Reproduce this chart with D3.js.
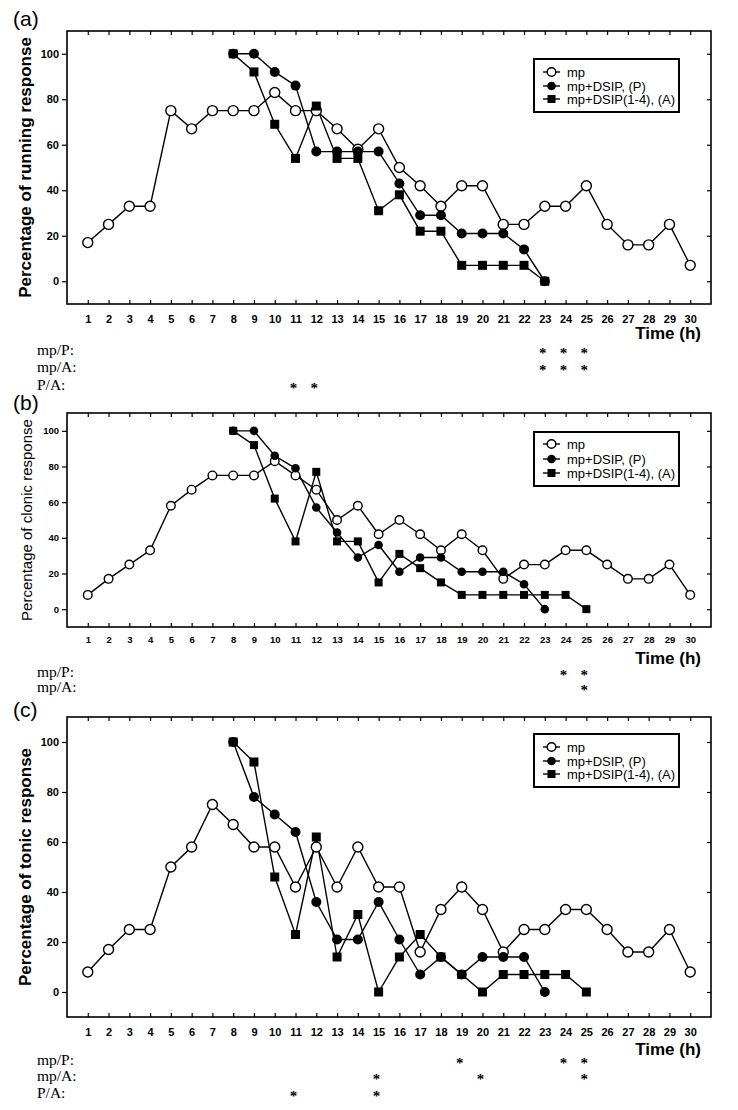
<!DOCTYPE html>
<html>
<head>
<meta charset="utf-8">
<script src="https://cdn.jsdelivr.net/npm/d3@7"></script>
<style>
  body { margin: 0; background: #fff; }
  svg { display: block; }
</style>
</head>
<body>
<div id="chart"></div>
<script>
// hours on the x axis
const hours = [1, 2, 3, 4, 5, 6, 7, 8, 9, 10, 11, 12, 13, 14, 15, 16, 17, 18, 19, 20, 21, 22, 23, 24, 25, 26, 27, 28, 29, 30];
const yTicks = [0, 20, 40, 60, 80, 100];
const seriesNames = ["mp", "mp+DSIP, (P)", "mp+DSIP(1-4), (A)"];
const sigLabelsFull = ["mp/P:", "mp/A:", "P/A:"];

// (a) running response
const runMp = [17, 25, 33, 33, 75, 67, 75, 75, 75, 83, 75, 75, 67, 58, 67, 50, 42, 33, 42, 42, 25, 25, 33, 33, 42, 25, 16, 16, 25, 7];
const runP = [100, 100, 92, 86, 57, 57, 57, 57, 43, 29, 29, 21, 21, 21, 14, 0];          // hours 8..23
const runA = [100, 92, 69, 54, 77, 54, 54, 31, 38, 22, 22, 7, 7, 7, 7, 0];               // hours 8..23
const runSig = [[23, 24, 25], [23, 24, 25], [11, 12]];

// (b) clonic response
const cloMp = [8, 17, 25, 33, 58, 67, 75, 75, 75, 83, 75, 67, 50, 58, 42, 50, 42, 33, 42, 33, 17, 25, 25, 33, 33, 25, 17, 17, 25, 8];
const cloP = [100, 100, 86, 79, 57, 43, 29, 36, 21, 29, 29, 21, 21, 21, 14, 0];          // hours 8..23
const cloA = [100, 92, 62, 38, 77, 38, 38, 15, 31, 23, 15, 8, 8, 8, 8, 8, 8, 0];          // hours 8..25
const cloSig = [[24, 25], [25]];

// (c) tonic response
const tonMp = [8, 17, 25, 25, 50, 58, 75, 67, 58, 58, 42, 58, 42, 58, 42, 42, 16, 33, 42, 33, 16, 25, 25, 33, 33, 25, 16, 16, 25, 8];
const tonP = [100, 78, 71, 64, 36, 21, 21, 36, 21, 7, 14, 7, 14, 14, 14, 0];             // hours 8..23
const tonA = [100, 92, 46, 23, 62, 14, 31, 0, 14, 23, 14, 7, 0, 7, 7, 7, 7, 0];            // hours 8..25
const tonSig = [[19, 24, 25], [15, 20, 25], [11, 15]];

const firstTreatedHour = 8;

const W = 738, H = 1110;
const svg = d3.select("#chart").append("svg")
    .attr("width", W)
    .attr("height", H)
    .style("font-family", "'Liberation Sans', Arial, sans-serif");

const x = d3.scaleLinear().domain([0, 31]).range([67, 711]);

const panels = [
    { letter: "(a)", letterY: 18, top: 31, bottom: 304, title: "Percentage of running response",
      titleSize: 17, titleWeight: "bold", titleX: 25, tickFont: 11, labelPad: 11,
      timeY: 333, sigY: [350, 367, 385], legendTop: 59, legendY: [72, 86, 99],
      r: 5, sq: 9, mp: runMp, p: runP, a: runA, sig: runSig },
    { letter: "(b)", letterY: 402, top: 413, bottom: 627, title: "Percentage of clonic response",
      titleSize: 15, titleWeight: "normal", titleX: 27, tickFont: 9.5, labelPad: 9,
      timeY: 658, sigY: [672, 687], legendTop: 432, legendY: [444, 459, 473],
      r: 4.3, sq: 8, mp: cloMp, p: cloP, a: cloA, sig: cloSig },
    { letter: "(c)", letterY: 709, top: 717, bottom: 1017, title: "Percentage of tonic response",
      titleSize: 17, titleWeight: "bold", titleX: 25, tickFont: 11, labelPad: 11,
      timeY: 1049, sigY: [1060, 1076, 1093], legendTop: 734, legendY: [747, 761, 774],
      r: 5, sq: 9, mp: tonMp, p: tonP, a: tonA, sig: tonSig }
];

function drawMarker(g, kind, cx, cy, p) {
    if (kind === 0) {
        g.append("circle").attr("cx", cx).attr("cy", cy).attr("r", p.r)
            .attr("fill", "#fff").attr("stroke", "#000").attr("stroke-width", 1.4);
    } else if (kind === 1) {
        g.append("circle").attr("cx", cx).attr("cy", cy).attr("r", p.r)
            .attr("fill", "#000");
    } else {
        g.append("rect").attr("x", cx - p.sq / 2).attr("y", cy - p.sq / 2)
            .attr("width", p.sq).attr("height", p.sq).attr("fill", "#000");
    }
}

panels.forEach(p => {
    const g = svg.append("g");
    const y = d3.scaleLinear().domain([-10, 110]).range([p.bottom, p.top]);

    // panel letter
    g.append("text").attr("x", 13).attr("y", p.letterY).attr("dy", "0.36em")
        .attr("font-size", 21).text(p.letter);

    // axes: ticks inward on top/bottom/right, outward on left
    const bottomAx = g.append("g").attr("transform", `translate(0,${p.bottom})`)
        .call(d3.axisBottom(x).tickValues(hours).tickSizeInner(-4).tickSizeOuter(0).tickPadding(p.labelPad));
    bottomAx.selectAll("text").attr("font-size", p.tickFont).attr("font-weight", "bold").attr("fill", "#000");
    g.append("g").attr("transform", `translate(0,${p.top})`)
        .call(d3.axisTop(x).tickValues(hours).tickSizeInner(-4).tickSizeOuter(0).tickFormat(""));
    const leftAx = g.append("g").attr("transform", `translate(${x(0)},0)`)
        .call(d3.axisLeft(y).tickValues(yTicks).tickSizeInner(5).tickSizeOuter(0).tickPadding(3));
    leftAx.selectAll("text").attr("font-size", p.tickFont).attr("font-weight", "bold").attr("fill", "#000");
    g.append("g").attr("transform", `translate(${x(31)},0)`)
        .call(d3.axisRight(y).tickValues(yTicks).tickSizeInner(-4).tickSizeOuter(0).tickFormat(""));
    g.selectAll(".domain").remove();
    g.selectAll(".tick line").attr("stroke", "#000").attr("stroke-width", 1.2);

    // frame
    g.append("rect").attr("x", x(0)).attr("y", p.top)
        .attr("width", x(31) - x(0)).attr("height", p.bottom - p.top)
        .attr("fill", "none").attr("stroke", "#000").attr("stroke-width", 1.6);

    // y title
    g.append("text")
        .attr("transform", `translate(${p.titleX},${(p.top + p.bottom) / 2}) rotate(-90)`)
        .attr("text-anchor", "middle").attr("dy", "0.36em")
        .attr("font-size", p.titleSize).attr("font-weight", p.titleWeight)
        .text(p.title);

    // series
    const line = d3.line().x(d => x(d[0])).y(d => y(d[1]));
    const sets = [
        hours.map((h, i) => [h, p.mp[i]]),
        p.p.map((v, i) => [firstTreatedHour + i, v]),
        p.a.map((v, i) => [firstTreatedHour + i, v])
    ];
    sets.forEach(pts => {
        g.append("path").attr("d", line(pts)).attr("fill", "none")
            .attr("stroke", "#000").attr("stroke-width", 1.4);
    });
    sets.forEach((pts, k) => {
        pts.forEach(d => drawMarker(g, k, x(d[0]), y(d[1]), p));
    });

    // legend
    const lx0 = 534, lx1 = 679;
    g.append("rect").attr("x", lx0).attr("y", p.legendTop)
        .attr("width", lx1 - lx0).attr("height", p.legendY[2] - p.legendTop + 13)
        .attr("fill", "#fff").attr("stroke", "#000").attr("stroke-width", 2);
    seriesNames.forEach((name, k) => {
        const ly = p.legendY[k];
        g.append("line").attr("x1", 543).attr("x2", 560).attr("y1", ly).attr("y2", ly)
            .attr("stroke", "#000").attr("stroke-width", 1.4);
        drawMarker(g, k, 551.5, ly, { r: 4.3, sq: 8 });
        g.append("text").attr("x", 567).attr("y", ly).attr("dy", "0.36em")
            .attr("font-size", 13).text(name);
    });

    // Time (h)
    g.append("text").attr("x", 701).attr("y", p.timeY).attr("dy", "0.36em")
        .attr("text-anchor", "end").attr("font-size", 17).attr("font-weight", "bold")
        .text("Time (h)");

    // significance rows
    p.sig.forEach((hs, k) => {
        const sy = p.sigY[k];
        g.append("text").attr("x", 37).attr("y", sy + 5)
            .attr("font-family", "'Liberation Serif', 'Times New Roman', serif")
            .attr("font-size", 15.5).attr("fill", "#000").text(sigLabelsFull[k]);
        hs.forEach(h => {
            g.append("text").attr("x", x(h) - 2).attr("y", sy + 8)
                .attr("text-anchor", "middle")
                .attr("font-family", "'Liberation Serif', 'Times New Roman', serif")
                .attr("font-size", 15).attr("font-weight", "bold").attr("fill", "#000").text("*");
        });
    });
});
</script>
</body>
</html>
